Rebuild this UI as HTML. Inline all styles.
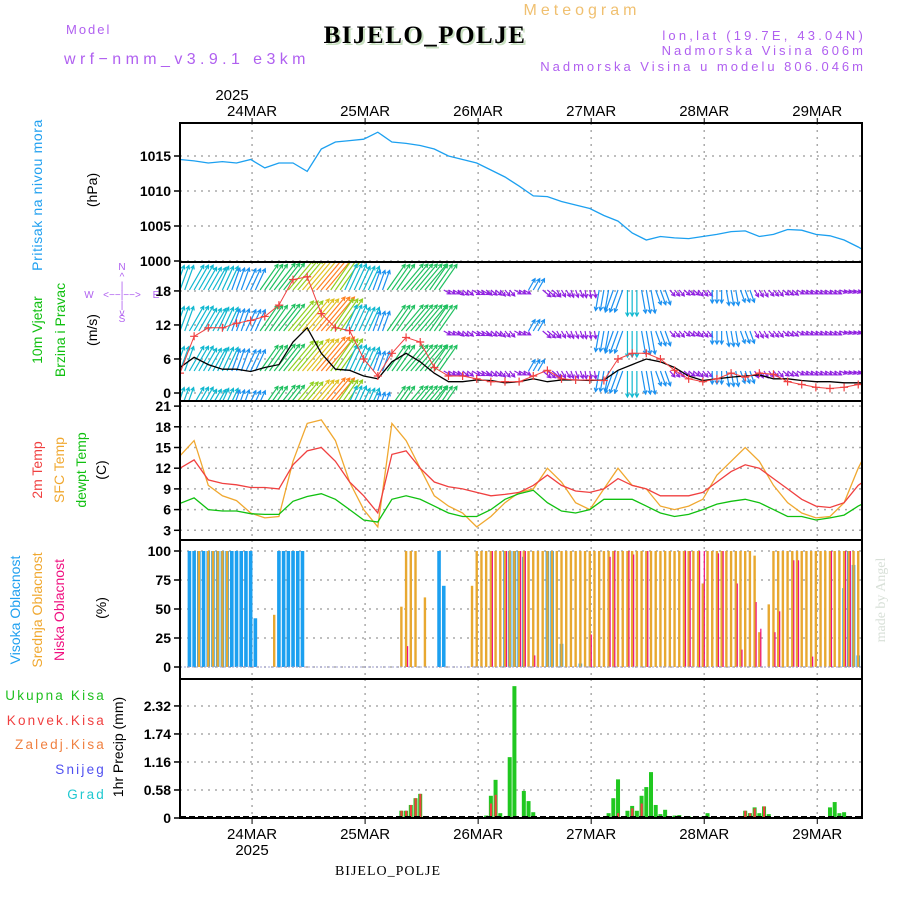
<!DOCTYPE html>
<html><head><meta charset="utf-8"><style>
html,body{margin:0;padding:0;background:#fff;}
svg{display:block;font-family:"Liberation Sans",sans-serif;}
</style></head><body>
<svg id="chart" width="900" height="900" viewBox="0 0 900 900" xmlns="http://www.w3.org/2000/svg">
<defs>
<clipPath id="cP"><rect x="180" y="123" width="682" height="139"/></clipPath>
<clipPath id="cW"><rect x="180" y="262" width="682" height="139"/></clipPath>
<clipPath id="cT"><rect x="180" y="401" width="682" height="139"/></clipPath>
<clipPath id="cC"><rect x="180" y="540" width="682" height="139"/></clipPath>
<clipPath id="cR"><rect x="180" y="679" width="682" height="139"/></clipPath>
</defs>
<text x="582" y="15" fill="#f0c070" font-size="16" letter-spacing="4" text-anchor="middle">Meteogram</text>
<text x="66" y="34" fill="#b060f0" font-size="13" letter-spacing="2">Model</text>
<text x="64" y="64" fill="#b060f0" font-size="16" letter-spacing="4.4">wrf−nmm_v3.9.1 e3km</text>
<text x="427" y="45" fill="#c8e0c0" font-size="25" font-weight="bold" font-family="Liberation Serif, serif" text-anchor="middle" letter-spacing="1.5">BIJELO_POLJE</text>
<text x="425" y="43" fill="#000" font-size="25" font-weight="bold" font-family="Liberation Serif, serif" text-anchor="middle" letter-spacing="1.5">BIJELO_POLJE</text>
<text x="866" y="40" fill="#b060f0" font-size="13" text-anchor="end" letter-spacing="3.2">lon,lat (19.7E, 43.04N)</text>
<text x="866" y="55" fill="#b060f0" font-size="13" text-anchor="end" letter-spacing="3">Nadmorska Visina 606m</text>
<text x="866" y="71" fill="#b060f0" font-size="13" text-anchor="end" letter-spacing="3">Nadmorska Visina u modelu 806.046m</text>
<text x="232" y="100" font-size="15" text-anchor="middle">2025</text>
<text x="388" y="875" font-size="14" font-family="Liberation Serif, serif" text-anchor="middle" letter-spacing="1">BIJELO_POLJE</text>
<text x="252" y="855" font-size="15" text-anchor="middle">2025</text>
<text transform="rotate(-90 885 600)" x="885" y="600" font-size="14" fill="#d8e0d8" font-family="Liberation Serif, serif" text-anchor="middle">made by Angel</text>

<text transform="rotate(-90 42 195)" x="42" y="195" font-size="14" fill="#20a0f0" text-anchor="middle" letter-spacing="0.6">Pritisak na nivou mora</text>
<text transform="rotate(-90 97 190)" x="97" y="190" font-size="14" text-anchor="middle">(hPa)</text>
<text transform="rotate(-90 42 330)" x="42" y="330" font-size="14" fill="#10c010" text-anchor="middle">10m Vjetar</text>
<text transform="rotate(-90 65 330)" x="65" y="330" font-size="14" fill="#10c010" text-anchor="middle">Brzina i Pravac</text>
<text transform="rotate(-90 97 330)" x="97" y="330" font-size="14" text-anchor="middle">(m/s)</text>
<g fill="#b060f0" font-size="10" text-anchor="middle">
<text x="122" y="270">N</text><text x="122" y="280">^</text><text x="122" y="289">|</text>
<text x="89" y="298">W</text><text x="122" y="298">&lt;−−|−−&gt;</text><text x="156" y="298">E</text>
<text x="122" y="308">|</text><text x="122" y="316">v</text><text x="122" y="322">S</text>
</g>
<text transform="rotate(-90 42 470)" x="42" y="470" font-size="14" fill="#f04040" text-anchor="middle">2m Temp</text>
<text transform="rotate(-90 64 470)" x="64" y="470" font-size="14" fill="#f0a830" text-anchor="middle">SFC Temp</text>
<text transform="rotate(-90 86 470)" x="86" y="470" font-size="14" fill="#10c010" text-anchor="middle">dewpt Temp</text>
<text transform="rotate(-90 106 470)" x="106" y="470" font-size="14" text-anchor="middle">(C)</text>
<text transform="rotate(-90 20 610)" x="20" y="610" font-size="14" fill="#20a0f0" text-anchor="middle">Visoka Oblacnost</text>
<text transform="rotate(-90 42 610)" x="42" y="610" font-size="14" fill="#f0a830" text-anchor="middle">Srednja Oblacnost</text>
<text transform="rotate(-90 64 610)" x="64" y="610" font-size="14" fill="#f01080" text-anchor="middle">Niska Oblacnost</text>
<text transform="rotate(-90 106 608)" x="106" y="608" font-size="14" text-anchor="middle">(%)</text>
<g font-size="13.5" text-anchor="end" letter-spacing="2.2">
<text x="106" y="700" fill="#20c020">Ukupna  Kisa</text>
<text x="106" y="725" fill="#f04040">Konvek.Kisa</text>
<text x="106" y="749" fill="#f08040">Zaledj.Kisa</text>
<text x="106" y="774" fill="#5050f0">Snijeg</text>
<text x="106" y="799" fill="#20c8d0">Grad</text>
</g>
<text transform="rotate(-90 123 747)" x="123" y="747" font-size="14" text-anchor="middle">1hr Precip (mm)</text>
<g id="dyn"></g>
</svg>
<script>
const dayLabels = ["24MAR","25MAR","26MAR","27MAR","28MAR","29MAR"];
const pressTicks = [1000,1005,1010,1015];
const windTicks = [0,6,12,18];
const tempTicks = [3,6,9,12,15,18,21];
const cloudTicks = [0,25,50,75,100];
const precipTicks = [0,0.58,1.16,1.74,2.32];
const pressure = [1014.5,1014.3,1014,1014.2,1014,1014.5,1013.3,1014,1014,1012.8,1016,1017,1017.2,1017.4,1018.4,1017,1016.8,1016.5,1016,1015,1014.5,1014,1013,1012,1010.7,1009.3,1009.2,1008.5,1008,1007.5,1006.5,1005.7,1004,1003,1003.5,1003.3,1003.2,1003.5,1003.8,1004.2,1004.3,1003.5,1003.8,1004.5,1004.4,1003.8,1003.6,1003,1002,1000.8];
const temp2m = [12,13.2,10.3,9.8,9.6,9.2,9.2,9,12.5,14.5,15,13,10,8,5.5,14,14.5,12,10,9.3,9,8.5,8,8.2,8.5,9.5,11,9.5,8.7,8.5,9,10.5,9.5,9,8,8,8,8.5,10,11.5,12.5,12,10.5,9,7.5,6.5,6.3,7,9.5,11];
const tempSfc = [13.8,16,9.5,8,7.3,5.5,4.8,5,13,18.5,19,16,10,6,3.5,18.5,16,12,8,6.5,5.5,3.5,5,7,8.5,9,12,10,7,6,9,12,9.5,9,6.5,6,6.5,7.5,11,13,15,13,9.5,7,5.5,4.8,5,7,12,16];
const dewpt = [6.9,7.7,6,5.8,5.8,5.4,5.3,5.3,7.2,7.9,8.3,7.5,6,4.5,4.2,7.5,8,7.5,6.5,5.5,5,5,6,7.5,8.3,8.8,7,5.8,5.5,6,7.5,7.5,7.5,6.5,5.5,5,5.3,6,6.8,7.2,7.5,7,6,5,5,4.5,4.8,5.2,6.5,7.5];
const windSpeed = [4.5,6.3,5,4.2,4.2,3.8,4.5,5,9,11.5,7,4.2,4,3,2.5,5.5,7,5.5,3.5,2,2,2.3,2.2,1.8,2,2.5,2,2.3,2.3,2.2,2.3,4,5,6,5.5,4.5,3,2.2,2.5,2.8,3,3.2,2.5,2.5,2.2,2,2,1.8,1.8,1.8];
const windGust = [3.5,10,11.5,11.5,12.3,12.8,13.5,15.5,20,20.5,14,11.5,11,6,3,7,9.8,9,4.5,3,3,2.5,2,2,2,3,4,2.5,2.3,2.3,2.2,6,7,7,6,4,2.5,2,2.5,3.5,2.8,3.5,3.3,2,1.5,1,0.8,1,1.5,2];
const arrowDir = [20,30,30,25,20,25,35,38,40,40,40,35,25,25,20,35,40,40,35,120,130,120,130,140,120,30,130,150,160,170,190,200,180,170,160,140,130,140,180,170,160,150,140,130,120,120,120,110,110,110];
const arrowSpd = [10,11,10,10,9,9,12,13,15,16,17,15,11,10,8,12,13,13,12,3,3,3.5,3,3,3,5,4,3,3,3,8,9,10,9,6,3,3,3,5,6,5,3,3,3,3,3,3,3,3,3];
const cloudHigh = [0,0,100,100,100,100,100,100,100,100, 100,100,100,100,100,100,42,0,0,0, 0,100,100,100,100,100,100,0,0,0, 0,0,0,0,0,0,0,0,0,0, 0,0,0,0,0,0,0,0,0,0, 0,0,0,0,0,100,70,0,0,0, 0,0,0,0,0,0,0,0,0,100, 100,100,100,95,0,0,0,0,100,100, 0,20,0,0,0,3,0,0,0,0, 0,0,0,0,0,0,0,0,0,0, 0,0,0,0,0,0,0,0,0,0, 0,0,0,0,0,0,0,0,0,0, 0,0,0,0,0,0,0,0,0,0, 0,0,0,0,0,0,0,0,0,0, 0,68,100,88,10];
const cloudMid = [0,0,0,0,100,0,100,100,100,100, 100,0,0,0,0,0,0,0,0,0, 45,0,0,0,0,0,0,0,0,0, 0,0,0,0,0,0,0,0,0,0, 0,0,0,0,0,0,0,52,100,100, 100,0,60,0,0,0,0,0,0,0, 0,0,70,100,100,100,100,100,100,100, 100,100,100,100,100,100,100,100,100,100, 100,100,100,100,100,100,100,100,100,100, 100,100,100,100,100,100,100,100,100,100, 100,100,100,100,100,100,100,100,100,100, 100,72,100,100,100,100,100,100,100,100, 100,100,96,30,0,54,100,100,100,100, 100,100,100,100,100,100,100,100,100,100, 100,100,100,100,100];
const cloudLow = [0,0,0,0,0,0,0,0,0,0, 0,0,0,0,0,0,0,0,0,0, 0,0,0,0,0,0,0,0,0,0, 0,0,0,0,0,0,0,0,0,0, 0,0,0,0,0,0,0,0,18,0, 0,0,0,0,0,0,0,0,0,0, 0,0,0,0,0,0,100,0,0,100, 0,0,100,100,0,10,0,0,0,0, 0,0,0,0,0,0,0,28,0,0, 0,95,100,0,0,100,97,0,0,100, 0,0,0,0,0,0,0,100,100,0, 100,100,0,0,98,100,0,0,72,15, 0,0,56,33,0,0,30,48,0,0, 92,92,0,0,9,0,0,0,100,0, 0,100,100,0,0];
const precipHour = [47,48,49,50,51,52, 65,66,67,68,69,70,71,73,74,75, 91,92,93,95,96,97,98,99,100,101,102,103,104,105,106,108, 111,112, 120,121,122,123,124,125, 138,139,140,141,142];
const precipTotal = [0.15,0.15,0.27,0.41,0.5,0.03, 0.05,0.46,0.79,0.1,0.03,1.26,2.73,0.56,0.35,0.12, 0.1,0.41,0.8,0.15,0.25,0.15,0.46,0.64,0.95,0.27,0.08,0.17,0.04,0.05,0.06,0.04, 0.03,0.1, 0.15,0.1,0.22,0.1,0.24,0.08, 0.22,0.33,0.1,0.12,0.03];
const precipConv = [0.15,0.15,0.27,0.41,0.5,0.03, 0,0.3,0.48,0,0,0,0,0,0,0, 0,0,0.1,0,0.2,0,0.3,0,0,0,0,0,0,0,0,0, 0,0, 0.15,0.1,0.2,0,0.24,0.03, 0,0,0,0,0];

const NS = "http://www.w3.org/2000/svg";
const dyn = document.getElementById("dyn");
const X0 = 180, PX = 4.71, DAY0 = 15.3;
const xH = h => X0 + h * PX;
const yP = v => 261 - (v - 1000) * 7;
const yW = v => 393 - v * 5.67;
const yT = v => 551 - v * 6.9;
const yC = v => 667 - v * 1.16;
const yR = v => 818 - v * 48.3;
function mk(tag, attrs, parent) {
  const e = document.createElementNS(NS, tag);
  for (const k in attrs) e.setAttribute(k, attrs[k]);
  (parent || dyn).appendChild(e);
  return e;
}
const panels = [
  {top:123, clip:"cP", ticks:pressTicks, f:yP, name:"pressure"},
  {top:262, clip:"cW", ticks:windTicks, f:yW, name:"wind"},
  {top:401, clip:"cT", ticks:tempTicks, f:yT, name:"temp"},
  {top:540, clip:"cC", ticks:cloudTicks, f:yC, name:"cloud"},
  {top:679, clip:"cR", ticks:precipTicks, f:yR, name:"precip"}
];
const groups = {};
panels.forEach(p => {
  const g = mk("g", {});
  
  
  const grid = mk("g", {"clip-path":"url(#"+p.clip+")", stroke:"#aaa", "stroke-width":"1.5", "stroke-dasharray":"2,5"}, g);
  p.ticks.forEach(t => { const y = p.f(t); mk("line", {x1:180, x2:862, y1:y, y2:y}, grid); });
  dayLabels.forEach((d, k) => { const x = xH(DAY0 + 24*k); mk("line", {x1:x, x2:x, y1:p.top, y2:p.top+139}, grid); });
  const content = mk("g", {"clip-path":"url(#"+p.clip+")"}, g);
  groups[p.name] = content;
  mk("rect", {x:180, y:p.top, width:682, height:139, fill:"none", stroke:"#000", "stroke-width":"2"}, g);
  p.ticks.forEach(t => {
    const y = p.f(t);
    if (y < p.top - 8 || y > p.top + 145) return;
    mk("line", {x1:174, x2:180, y1:y, y2:y, stroke:"#000", "stroke-width":"1.5"}, g);
    const tx = mk("text", {x:171, y:y+5, "font-size":"14", "font-weight":"bold", "text-anchor":"end"}, g);
    tx.textContent = String(t);
    
    
  });
});
dayLabels.forEach((d, k) => {
  const x = xH(DAY0 + 24*k);
  const t = mk("text", {x:x, y:116, "font-size":"15", "text-anchor":"middle"});
  t.textContent = d;
  
  
  mk("line", {x1:x, x2:x, y1:118, y2:123, stroke:"#000"});
  const b = mk("text", {x:x, y:839, "font-size":"15", "text-anchor":"middle"});
  b.textContent = d;
  
  
  mk("line", {x1:x, x2:x, y1:818, y2:824, stroke:"#000"});
});
function line(arr, fy, color, g, name, w) {
  const pts = arr.map((v, i) => xH(3*i).toFixed(1) + "," + fy(v).toFixed(1)).join(" ");
  const pl = mk("polyline", {points:pts, fill:"none", stroke:color, "stroke-width":w||1.3}, g);
  
  
  return pl;
}
line(pressure, yP, "#1ca0f0", groups.pressure, "pressure-line");
function arrowColor(s) {
  if (s < 4.5) return "#9020e0";
  if (s < 9.5) return "#1a90f0";
  if (s < 11.5) return "#10b8d0";
  if (s < 13.5) return "#20c060";
  if (s < 15.5) return "#90d020";
  if (s < 16.5) return "#e0c020";
  if (s < 17.5) return "#ff8020";
  return "#ff2080";
}
const rows = [290, 331, 371, 412];
const ag = mk("g", {"stroke-width":"1.2", fill:"none"}, groups.wind);
arrowDir.forEach((d, i) => {
  const s = arrowSpd[i], L = s * 2.6, r = d * Math.PI / 180;
  const dx = Math.sin(r) * L, dy = -Math.cos(r) * L;
  const c = arrowColor(s);
  rows.forEach(by => {
    [-1, 0, 1].forEach(o => {
      const x0 = xH(3*i + o), x1 = x0 + dx, y1 = by + dy;
      const a = Math.atan2(dy, dx);
      const h1x = x1 - 4*Math.cos(a-0.5), h1y = y1 - 4*Math.sin(a-0.5);
      const h2x = x1 - 4*Math.cos(a+0.5), h2y = y1 - 4*Math.sin(a+0.5);
      const p = mk("path", {d:`M${x0},${by}L${x1},${y1}M${h1x},${h1y}L${x1},${y1}L${h2x},${h2y}`, stroke:c}, ag);
      
      
    });
  });
});
line(windSpeed, yW, "#000", groups.wind, "wind-speed-line", 1.3);
line(windGust, yW, "#f04040", groups.wind, "wind-gust-line", 1);
windGust.forEach((v, i) => {
  const x = xH(3*i), y = yW(v);
  const m = mk("path", {d:`M${x-4},${y}h8M${x},${y-4}v8`, stroke:"#f04040", "stroke-width":"1.2"}, groups.wind);
  
  
});
line(tempSfc, yT, "#f0a830", groups.temp, "sfc-temp-line");
line(temp2m, yT, "#f04040", groups.temp, "temp-2m-line");
line(dewpt, yT, "#10c010", groups.temp, "dewpoint-line");
function bars(arr, color, w, off, name) {
  arr.forEach((v, i) => {
    if (v <= 0) return;
    const x = xH(i) + off, y = yC(v);
    const r = mk("rect", {x:x - w/2, y:y, width:w, height:yC(0) - y, fill:color}, groups.cloud);
    
    
  });
}
bars(cloudHigh, "#1ca0f0", 3.6, 0, "high-cloud-bar");
bars(cloudMid, "#e8a830", 2.4, 0, "mid-cloud-bar");
bars(cloudLow, "#f01080", 1.2, 1.5, "low-cloud-bar");
mk("line", {x1:180, x2:862, y1:yC(0), y2:yC(0), stroke:"#a0a0d0", "stroke-width":"1", "stroke-dasharray":"2,2"}, groups.cloud);
precipHour.forEach((h, i) => {
  const x = xH(h), yt = yR(precipTotal[i]);
  const r = mk("rect", {x:x - 2, y:yt, width:4, height:yR(0) - yt, fill:"#20c820"}, groups.precip);
  
  
  if (precipConv[i] > 0) {
    const yc = yR(precipConv[i]);
    const c = mk("rect", {x:x - 1, y:yc, width:2.2, height:yR(0) - yc, fill:"#f04040"}, groups.precip);
    
    
  }
});
mk("line", {x1:180, x2:862, y1:817, y2:817, stroke:"#000", "stroke-width":"2", "stroke-dasharray":"6,3"}, groups.precip);
</script>
</body></html>
